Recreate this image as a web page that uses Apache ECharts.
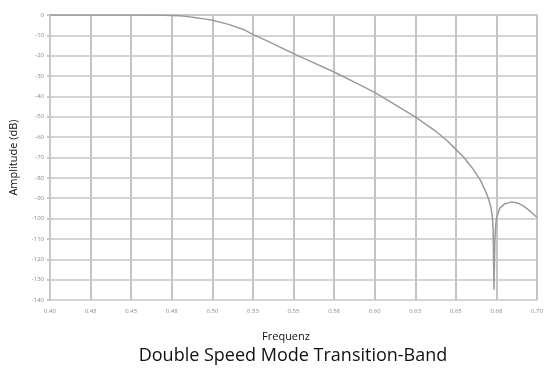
<!DOCTYPE html>
<html><head><meta charset="utf-8">
<script src="https://cdn.jsdelivr.net/npm/echarts@6/dist/echarts.min.js"></script>
<style>html,body{margin:0;padding:0;background:#fff}#c{width:555px;height:372px}</style>
</head><body><div id="c"></div>
<script>
const freq = [0.40,0.42,0.44,0.46,0.47,0.475,0.48,0.485,0.49,0.495,0.50,0.51,0.52,0.525,0.535,0.55,0.5625,0.575,0.5875,0.60,0.6125,0.625,0.6375,0.645,0.65,0.655,0.66,0.665,0.668,0.670,0.6715,0.6725,0.673,0.6735,0.674,0.6745,0.675,0.677,0.68,0.6845,0.688,0.692,0.696,0.70];
const amplitude = [0,0,0,-0.05,-0.1,-0.2,-0.4,-0.8,-1.3,-1.9,-2.6,-4.6,-7.4,-9.5,-13.2,-19,-23.5,-28,-33,-38,-44,-50,-57,-62,-66,-70,-75,-81,-86,-90,-94,-99,-106,-135,-112,-104,-100,-95,-92.8,-91.8,-92.3,-94,-96.5,-99.5];
const xTickLabels = ['0.40','0.43','0.45','0.48','0.50','0.53','0.55','0.58','0.60','0.63','0.65','0.68','0.70'];
const yTicks = [0,-10,-20,-30,-40,-50,-60,-70,-80,-90,-100,-110,-120,-130,-140];

const chart = echarts.init(document.getElementById('c'), null, {renderer:'canvas'});
const font = '"Open Sans", Lato, sans-serif';
chart.setOption({
  animation:false,
  backgroundColor:'#fff',
  title:[
    {text:'Double Speed Mode Transition-Band', left:288, top:342, textAlign:'center',
     textStyle:{fontFamily:font, fontSize:18, fontWeight:'normal', color:'#111'}},
    {text:'Frequenz', left:281, top:326, textAlign:'center',
     textStyle:{fontFamily:font, fontSize:11, fontWeight:'normal', color:'#111'}}
  ],
  grid:{left:48, right:18, top:15, bottom:72},
  xAxis:{
    type:'value', min:0.4, max:0.7, interval:0.025,
    axisLine:{show:true, lineStyle:{color:'#c8c8c8', width:2}},
    axisTick:{show:true, length:3, lineStyle:{color:'#c8c8c8', width:2}},
    axisLabel:{fontFamily:font, fontSize:6, color:'#8a8a8a', margin:8,
      formatter:function(v){return xTickLabels[Math.round((v-0.4)/0.025)];}},
    splitLine:{show:true, lineStyle:{color:'#c4c4c4', width:2}}
  },
  yAxis:{
    type:'value', min:-140, max:0, interval:10,
    name:'Amplitude (dB)', nameLocation:'middle', nameGap:31, nameRotate:90,
    nameTextStyle:{fontFamily:font, fontSize:11, color:'#111'},
    axisLine:{show:true, lineStyle:{color:'#c8c8c8', width:2}},
    axisTick:{show:true, length:3, lineStyle:{color:'#c8c8c8', width:2}},
    axisLabel:{fontFamily:font, fontSize:6, color:'#8a8a8a', margin:6,
      formatter:function(v){return String(yTicks[Math.round(-v/10)]);}},
    splitLine:{show:true, lineStyle:{color:'#d4d4d4', width:2}}
  },
  series:[{
    type:'line', showSymbol:false, smooth:false,
    data: freq.map((f,i)=>[f, amplitude[i]]),
    lineStyle:{color:'#9a9a9a', width:1.5}
  }]
});
</script></body></html>
